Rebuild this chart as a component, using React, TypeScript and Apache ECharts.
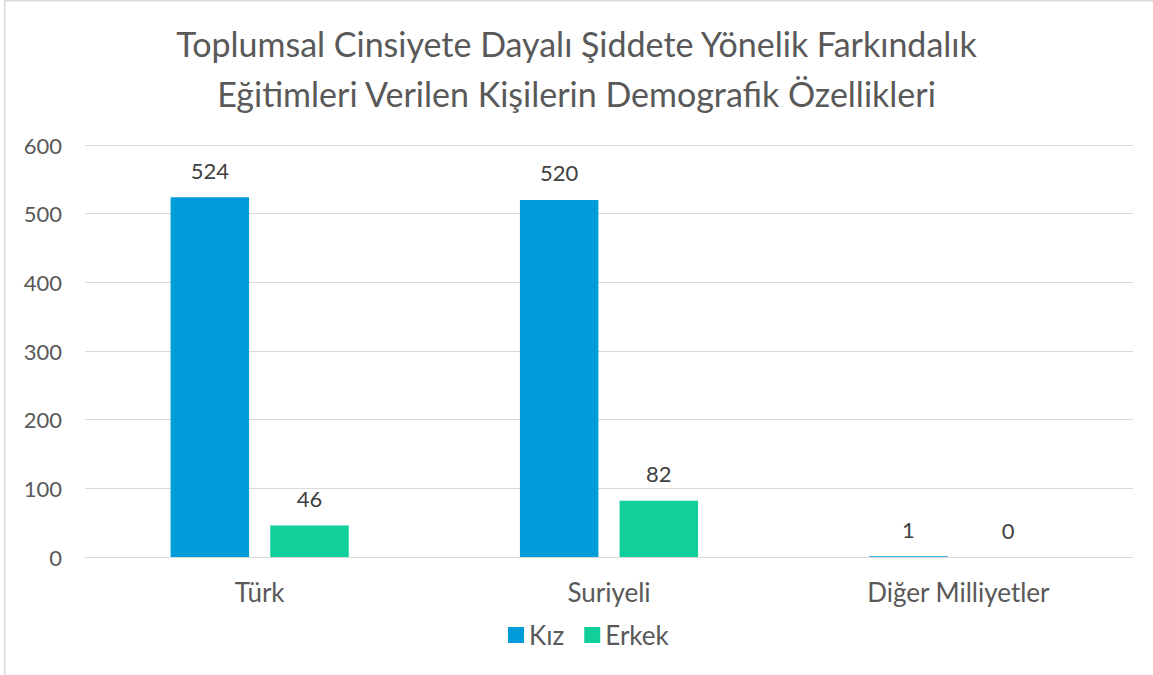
import React, { useEffect, useRef } from "react";
import * as echarts from "echarts";

const titleLines = [
  "Toplumsal Cinsiyete Dayalı Şiddete Yönelik Farkındalık",
  "Eğitimleri Verilen Kişilerin Demografik Özellikleri",
];
const categories = ["Türk", "Suriyeli", "Diğer Milliyetler"];
const seriesNames = ["Kız", "Erkek"];
const kizValues = [524, 520, 1];
const erkekValues = [46, 82, 0];
const colors = ["#009CDA", "#10CF9B"];

const FONT = "Lato";
const TEXT = "#595959";

export default function App() {
  const ref = useRef<HTMLDivElement>(null);
  useEffect(() => {
    if (!ref.current) return;
    const chart = echarts.init(ref.current, undefined, { renderer: "svg" });
    const labelStyle = {
      show: true,
      position: "top" as const,
      distance: 16,
      fontFamily: FONT,
      fontSize: 22,
      color: "#404040",
    };
    chart.setOption({
      animation: false,
      backgroundColor: "#ffffff",
      title: {
        text: titleLines.join("\n"),
        left: "center",
        top: 13,
        textStyle: {
          fontFamily: FONT,
          fontSize: 34,
          fontWeight: "normal",
          color: TEXT,
          lineHeight: 50,
        },
      },
      legend: {
        data: seriesNames,
        top: 617,
        left: 503,
        itemWidth: 16,
        itemHeight: 16,
        itemGap: 20,
        icon: "rect",
        textStyle: { fontFamily: FONT, fontSize: 26, color: TEXT },
      },
      grid: { left: 85, right: 20, top: 145, bottom: 118, containLabel: false },
      xAxis: {
        type: "category",
        data: categories,
        axisLine: { show: true, lineStyle: { color: "#d9d9d9", width: 1 } },
        axisTick: { show: false },
        axisLabel: { fontFamily: FONT, fontSize: 26, color: TEXT, margin: 22 },
      },
      yAxis: {
        type: "value",
        min: 0,
        max: 600,
        interval: 100,
        axisLine: { show: false },
        axisTick: { show: false },
        splitLine: { lineStyle: { color: "#d9d9d9", width: 1 } },
        axisLabel: { fontFamily: FONT, fontSize: 22, color: TEXT, margin: 23 },
      },
      series: [
        {
          name: seriesNames[0],
          type: "bar",
          data: kizValues,
          itemStyle: { color: colors[0] },
          barGap: "27%",
          barCategoryGap: "49%",
          label: labelStyle,
        },
        {
          name: seriesNames[1],
          type: "bar",
          data: erkekValues,
          itemStyle: { color: colors[1] },
          barGap: "27%",
          barCategoryGap: "49%",
          label: labelStyle,
        },
      ],
      graphic: [
        {
          type: "line",
          shape: { x1: 4, y1: 0.75, x2: 1153, y2: 0.75 },
          style: { stroke: "#d9d9d9", lineWidth: 1.5 },
        },
        {
          type: "line",
          shape: { x1: 4.75, y1: 0, x2: 4.75, y2: 675 },
          style: { stroke: "#d9d9d9", lineWidth: 1.5 },
        },
      ],
    });
    return () => chart.dispose();
  }, []);
  return (
    <div
      ref={ref}
      style={{ position: "absolute", left: 0, top: 0, width: 1153, height: 675 }}
    />
  );
}
